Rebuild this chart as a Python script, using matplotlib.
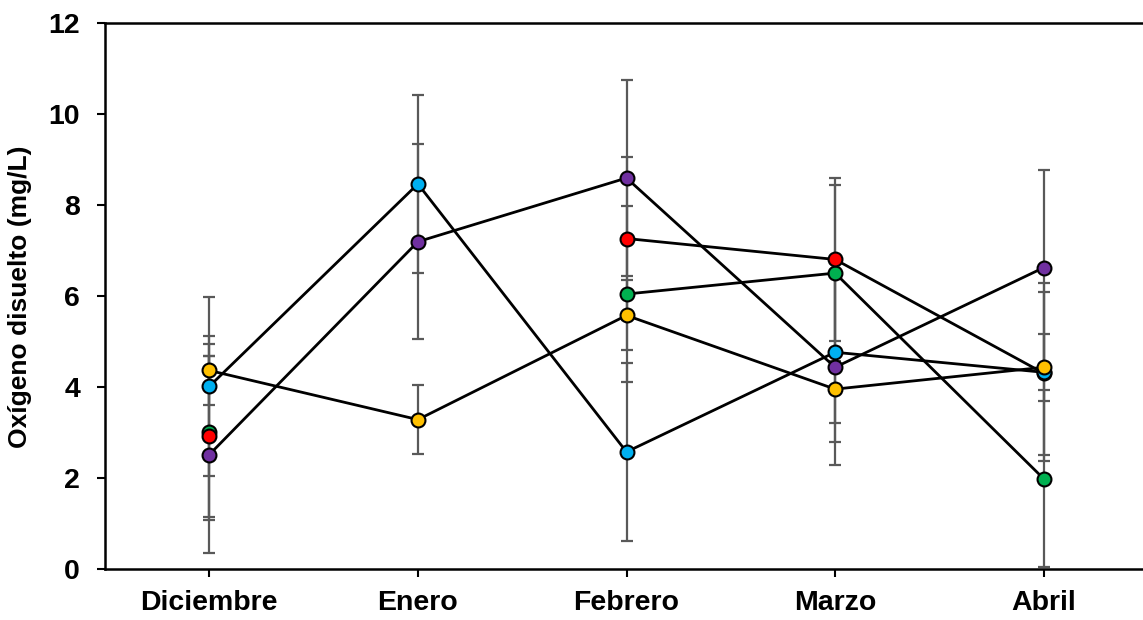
import numpy as np
import matplotlib
matplotlib.use('Agg')
import matplotlib.pyplot as plt

plt.rcParams['font.family'] = 'Liberation Sans'
plt.rcParams['font.weight'] = 'bold'

meses = ['Diciembre', 'Enero', 'Febrero', 'Marzo', 'Abril']

# valores medios (mg/L) por serie; nan = sin dato
verde    = [3.02, np.nan, 6.05, 6.51, 1.99]
rojo     = [2.92, np.nan, 7.27, 6.81, 4.31]
azul     = [4.02, 8.47, 2.58, 4.77, 4.33]
morado   = [2.52, 7.20, 8.60, 4.44, 6.63]
amarillo = [4.37, 3.29, 5.58, 3.96, 4.44]

# desviaciones
e_verde    = [1.94, np.nan, 1.94, 1.93, 1.94]
e_rojo     = [1.77, np.nan, 1.79, 1.79, 1.79]
e_azul     = [1.96, 1.95, 1.96, 1.97, 1.96]
e_morado   = [2.17, 2.14, 2.15, 2.14, 2.14]
e_amarillo = [0.75, 0.75, 0.77, 0.75, 0.74]

series = [(verde, e_verde, '#00B050'),
          (rojo, e_rojo, '#FF0000'),
          (azul, e_azul, '#00B0F0'),
          (morado, e_morado, '#7030A0'),
          (amarillo, e_amarillo, '#FFC000')]

x = np.arange(len(meses))

fig = plt.figure(figsize=(11.43, 6.2), dpi=100)
ax = fig.add_axes([105/1143, 50.7/620, (1148-105)/1143, (569.3-23.3)/620])

for y, e, c in series:
    ax.errorbar(x, y, yerr=e, fmt='none', ecolor='#595959', elinewidth=1.6,
                capsize=4.5, capthick=1.6, zorder=1)
for y, e, c in series:
    ax.plot(x, y, '-', color='black', lw=2, zorder=2)
for i, (y, e, c) in enumerate(series):
    ax.plot(x, y, 'o', color=c, markersize=10, markeredgecolor='black',
            markeredgewidth=1.5, zorder=3 + i)

ax.set_xlim(-0.5, 4.5)
ax.set_ylim(0, 12)
ax.set_yticks(np.arange(0, 13, 2))
ax.set_xticks(x)
ax.set_xticklabels(meses)
ax.set_ylabel('Oxígeno disuelto (mg/L)', fontsize=19, fontweight='bold', labelpad=12)
ax.tick_params(axis='both', direction='out', length=6, width=1.5, labelsize=20.5)
ax.tick_params(axis='y', pad=12)
ax.tick_params(axis='x', pad=9)
for s in ax.spines.values():
    s.set_linewidth(1.8)

fig.savefig('out.png', dpi=100)
